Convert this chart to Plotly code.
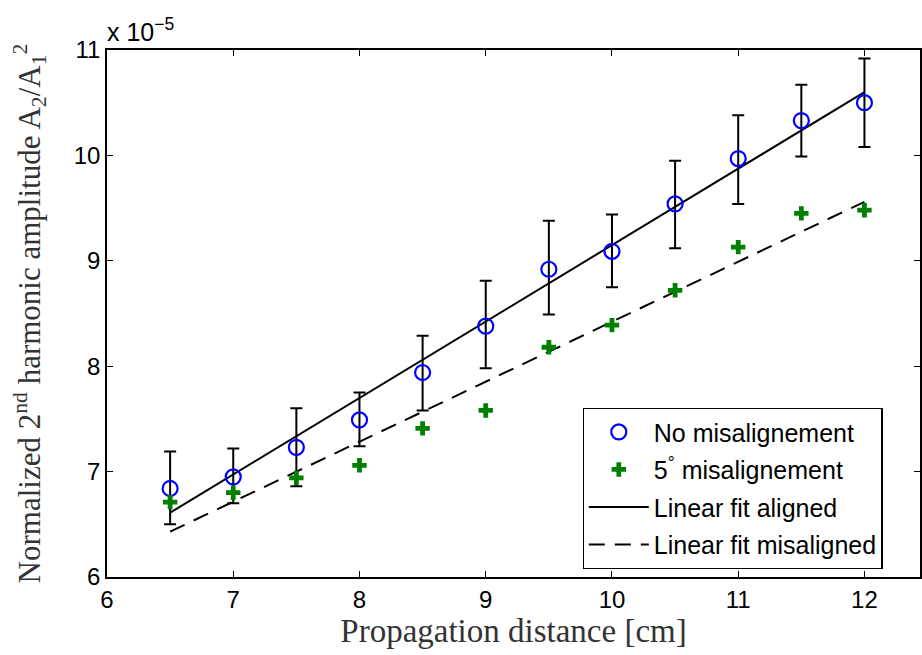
import plotly.graph_objects as go

# Data (values in units of 1e-5)
distance = [6.5, 7.0, 7.5, 8.0, 8.5, 9.0, 9.5, 10.0, 10.5, 11.0, 11.5, 12.0]
amp_aligned = [6.84, 6.95, 7.23, 7.49, 7.94, 8.38, 8.92, 9.09, 9.54, 9.97, 10.33, 10.50]
err_upper = [7.19, 7.22, 7.60, 7.75, 8.29, 8.81, 9.38, 9.44, 9.95, 10.38, 10.67, 10.92]
err_lower = [6.50, 6.70, 6.86, 7.24, 7.58, 7.98, 8.49, 8.75, 9.12, 9.54, 9.99, 10.08]
amp_misaligned = [6.71, 6.80, 6.94, 7.06, 7.41, 7.58, 8.18, 8.39, 8.72, 9.13, 9.45, 9.48]
fit_x = [6.5, 12.0]
fit_aligned = [6.61, 10.60]
fit_misaligned = [6.43, 9.56]

x_ticks = [6, 7, 8, 9, 10, 11, 12]
y_ticks = [6, 7, 8, 9, 10, 11]

err_plus = [u - a for u, a in zip(err_upper, amp_aligned)]
err_minus = [a - l for a, l in zip(amp_aligned, err_lower)]

fig = go.Figure()
fig.add_trace(go.Scatter(
    x=fit_x, y=fit_aligned, mode="lines", name="Linear fit aligned",
    line=dict(color="black", width=2), legendgroup="c", legendrank=3))
fig.add_trace(go.Scatter(
    x=fit_x, y=fit_misaligned, mode="lines", name="Linear fit misaligned",
    line=dict(color="black", width=2, dash="16px,10px"), legendgroup="d", legendrank=4))
fig.add_trace(go.Scatter(
    x=distance, y=amp_aligned, mode="markers", name="No misalignement",
    marker=dict(symbol="circle-open", size=15, color="#0000ff", line=dict(width=2.2, color="#0000ff")),
    error_y=dict(type="data", symmetric=False, array=err_plus, arrayminus=err_minus,
                 color="black", thickness=2, width=6),
    legendgroup="a", legendrank=1))
fig.add_trace(go.Scatter(
    x=distance, y=amp_misaligned, mode="markers", name="5<sup>°</sup> misalignement",
    marker=dict(symbol="cross", size=12, color="#008000", line=dict(width=0)),
    legendgroup="b", legendrank=2))

axis_common = dict(
    showline=True, linecolor="black", linewidth=1.5, mirror="ticks",
    ticks="inside", ticklen=6, tickcolor="black", tickwidth=1,
    showgrid=False, zeroline=False,
    tickfont=dict(family="Liberation Sans, Arial", size=24, color="black"),
)

fig.update_layout(
    width=922, height=655,
    margin=dict(l=107, r=0, t=50, b=78),
    paper_bgcolor="white", plot_bgcolor="white",
    xaxis=dict(range=[6, 12.44], tickvals=x_ticks, ticktext=[str(v) for v in x_ticks],
               title=dict(text="Propagation distance [cm]", standoff=4,
                          font=dict(family="Liberation Serif, Times New Roman", size=33, color="#333")),
               **axis_common),
    yaxis=dict(range=[6, 11], tickvals=y_ticks, ticktext=[str(v) for v in y_ticks],
               title=dict(text="Normalized 2<sup>nd</sup> harmonic amplitude A<sub>2</sub>/A<sub>1</sub><sup>2</sup>",
                          standoff=24,
                          font=dict(family="Liberation Serif, Times New Roman", size=31, color="#333")),
               **axis_common),
    legend=dict(x=0.585, y=0.3207, xanchor="left", yanchor="top",
                bgcolor="white", bordercolor="black", borderwidth=1.2,
                font=dict(family="Liberation Sans, Arial", size=25, color="black"),
                tracegroupgap=2, itemwidth=60),
    showlegend=True,
)

fig.add_annotation(x=0, y=1, xref="paper", yref="paper", xanchor="left", yanchor="bottom",
                   text="x 10<sup>−5</sup>", showarrow=False, yshift=2, xshift=-2,
                   font=dict(family="Liberation Sans, Arial", size=25, color="black"))

fig.write_html("out.html")
